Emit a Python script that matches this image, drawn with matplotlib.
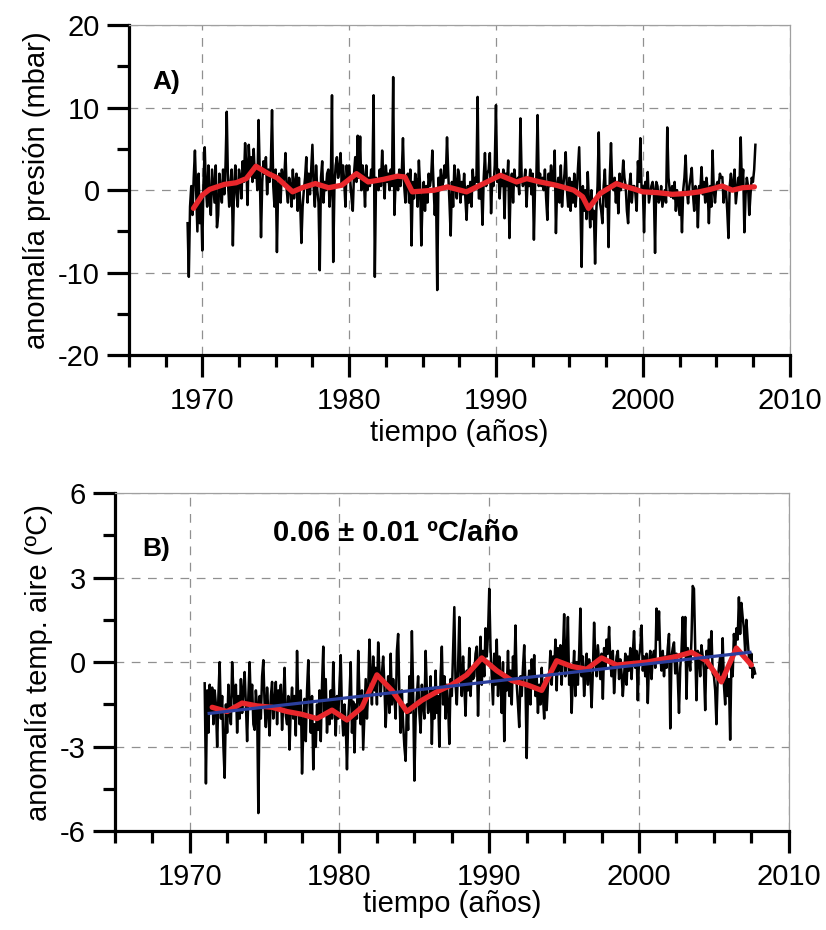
import numpy as np
import matplotlib
matplotlib.use("Agg")
import matplotlib.pyplot as plt
from matplotlib.ticker import MultipleLocator, FixedLocator

plt.rcParams['font.family'] = ['Liberation Sans', 'DejaVu Sans']
plt.rcParams['axes.unicode_minus'] = False

# Monthly pressure anomaly (mbar), one row per year, starting January 1969
pres_start = 1969
pres_monthly = [
    [-4.0, -10.5, -2.0, 0.5, -3.0, 1.5, 4.8, 0.0, -5.0, 2.0, -4.0, -1.0],
    [-7.3, 1.0, 5.2, 0.0, -2.0, 3.0, -1.0, -3.0, 2.5, 0.5, -1.5, 3.0],
    [-4.5, -3.0, 2.0, 0.0, -1.5, 2.5, -0.5, 3.0, 9.5, 1.0, -2.0, 1.0],
    [2.5, -6.7, 0.5, 3.0, -0.5, -2.0, 2.5, 1.5, -1.0, 3.5, 1.0, 5.7],
    [3.0, -1.8, 5.5, 2.0, 4.0, 1.0, 5.0, 1.5, 3.0, 0.0, 8.5, 2.0],
    [-5.7, 1.0, 3.5, 2.0, 4.0, -0.5, 2.5, 1.0, 3.0, 9.7, 0.5, -2.0],
    [2.5, -7.5, 0.5, 2.0, -1.5, 2.5, 1.0, 1.5, 4.5, 0.0, -1.5, 1.5],
    [0.5, -2.0, 2.5, -1.0, 1.0, 2.0, -2.5, 1.5, -1.5, -6.4, -2.0, 0.0],
    [1.5, 4.0, -1.5, 2.0, -0.5, 2.5, 5.5, 0.5, -2.0, 3.0, 0.0, -1.5],
    [-9.7, 1.5, 3.5, -1.5, 1.0, 0.0, 2.0, 2.5, -2.0, 0.5, 11.5, -8.7],
    [0.5, 3.0, 4.0, 1.5, 2.5, 4.5, 0.5, 3.0, 1.0, -2.0, 3.0, 1.0],
    [3.0, 1.0, -1.0, -2.5, 2.0, 4.0, 1.0, 6.6, 1.5, 6.5, 0.0, 3.0],
    [1.5, -2.0, 3.0, 0.0, 1.5, 0.5, 2.5, 1.0, 11.5, -10.5, 1.5, 1.0],
    [0.0, 2.5, 0.5, 4.8, 1.5, -1.0, 3.0, 1.0, 2.0, 0.0, 2.5, 0.5],
    [13.7, -3.0, 1.0, 1.5, 0.0, 2.5, 0.5, 2.0, 6.3, 0.5, -1.5, 1.5],
    [2.0, -1.5, 2.5, -6.7, 1.0, -1.0, 2.0, 1.0, -2.0, 3.6, 0.5, -6.7],
    [-1.0, 1.0, -2.5, 0.5, -1.5, 2.0, 0.5, 1.5, 4.8, 0.5, -3.0, 0.0],
    [-12.1, 1.5, 0.0, 2.5, 0.5, 1.0, 3.0, 1.5, 6.4, 2.0, -1.5, -5.5],
    [1.0, -2.0, 3.0, 0.5, -1.0, 2.5, 1.8, -1.5, 1.0, -0.5, 2.0, -1.0],
    [-3.6, 0.5, -1.5, 1.0, -2.0, 2.5, 0.0, 1.5, 1.0, 11.3, -1.0, -1.0],
    [0.5, -4.2, 1.5, 4.5, 0.5, 2.0, 2.5, 4.5, -2.8, 1.5, 0.5, 3.0],
    [10.3, 1.0, 2.5, -1.0, 1.5, 0.5, 2.5, -3.4, 2.0, 0.5, 3.6, -5.8],
    [0.5, 2.0, -1.5, 2.5, 1.0, 0.5, 1.5, -0.5, 8.7, 1.5, 0.5, 1.0],
    [2.5, -2.0, 1.5, 0.5, 2.5, -0.5, 2.0, -6.0, 1.0, 1.5, 9.1, 0.5],
    [2.0, 0.5, 1.5, 0.0, 2.5, -1.0, -3.6, 2.0, 0.5, 3.0, 1.0, 1.0],
    [4.8, -5.2, 0.5, 1.5, -1.5, 3.0, -2.0, 0.5, 2.0, 4.6, 0.0, -2.0],
    [1.5, -2.5, 1.0, -1.5, 2.0, -2.0, 0.0, 2.5, 5.2, -1.5, -9.3, 0.5],
    [-2.5, 0.0, -3.5, 2.2, -1.5, -4.5, 0.0, -3.5, -2.5, -8.9, -2.5, 0.5],
    [7.0, -1.5, -2.5, -4.0, 0.5, 2.5, -2.0, 0.5, -6.9, 1.5, 5.7, 0.5],
    [0.0, 1.5, -1.5, 1.0, -2.8, 2.0, 0.0, 1.0, 3.6, 1.5, 0.5, -2.5],
    [-4.0, 0.5, 2.0, -1.5, 0.5, 0.5, -0.5, -2.5, 3.5, 1.0, 6.3, 0.0],
    [0.5, -5.1, 1.0, 0.0, 2.2, -1.5, -0.5, 0.5, 1.0, 0.0, -7.6, 1.0],
    [0.5, -1.5, -1.0, 0.5, -2.0, -1.0, 0.0, -1.5, 7.6, 1.5, 0.0, -0.8],
    [0.5, -1.0, 1.0, -2.5, 0.0, -1.5, -3.0, -0.5, -5.1, 0.0, 1.5, 4.2],
    [0.0, -1.6, 0.5, 1.5, 2.7, -0.5, -2.5, 0.5, 0.0, -4.5, 0.5, 0.0],
    [2.8, -0.5, 1.0, -1.5, 1.5, 0.0, -4.0, 0.5, -2.0, 4.8, 0.0, -1.5],
    [0.5, 1.0, 0.5, 2.0, 1.5, 1.6, -1.5, 0.5, 0.0, -2.5, -5.8, 0.5],
    [2.0, 0.0, 0.5, 2.5, -1.6, 0.0, 1.5, 0.5, 6.4, 0.5, 2.5, -5.1],
    [-0.5, 1.5, 0.5, -3.0, -0.5, 1.5, 1.0, 2.5, 5.5],
]

# Smoothed pressure anomaly (mbar)
pres_smooth_t = [1969.4, 1970.0, 1970.5, 1971.5, 1972.3, 1973.0, 1973.65, 1974.5,
                 1975.1, 1976.15, 1976.8, 1977.7, 1978.6, 1979.5, 1980.5, 1981.3,
                 1982.3, 1983.3, 1983.8, 1984.3, 1985.8, 1986.7, 1988.0, 1988.7,
                 1990.3, 1991.4, 1992.1, 1993.0, 1994.1, 1995.3, 1995.9, 1996.3,
                 1997.1, 1998.2, 1998.7, 1999.3, 2000.0, 2001.0, 2002.0, 2003.0,
                 2003.85, 2004.6, 2005.4, 2006.1, 2006.8, 2007.6]
pres_smooth = [-2.2, -0.6, 0.1, 0.7, 0.9, 1.4, 2.9, 2.0,
               1.5, -0.2, 0.3, 0.8, 0.3, 0.6, 2.0, 1.0,
               1.3, 1.7, 1.6, -0.2, 0.0, 0.4, -0.2, 0.4,
               1.8, 1.0, 1.4, 1.0, 0.6, 0.0, -0.8, -2.2,
               -0.4, 0.8, 0.5, 0.2, -0.2, -0.3, -0.5, -0.4,
               -0.2, 0.1, 0.5, 0.0, 0.3, 0.4]

# Monthly air temperature anomaly (degC), one row per year, starting January 1971
temp_start = 1971
temp_monthly = [
    [-0.75, -4.3, -1.0, -2.5, -0.8, -1.8, -0.9, -2.2, -1.0, -1.5, -3.0, -1.2],
    [0.0, -2.0, -1.2, -3.0, -4.1, -1.5, -2.5, -0.8, -1.8, -2.2, 0.0, -1.0],
    [-1.5, -0.8, -2.5, -1.2, -2.0, -0.6, -1.8, -1.0, -0.35, -1.5, -2.8, -1.2],
    [0.0, -1.5, -0.8, -2.2, -2.4, -1.0, -1.6, -5.35, -1.2, -2.0, -0.5, 0.07],
    [-1.5, -2.3, -0.9, -1.8, -2.6, -1.2, -0.7, -2.0, -1.4, -0.7, -2.2, -1.0],
    [-1.5, -0.8, -2.4, -1.4, -0.2, -1.9, -2.2, -1.2, -3.1, -1.6, -0.9, -2.0],
    [-1.2, -2.6, 0.4, -1.5, -2.2, -1.0, -3.95, -2.4, -1.3, -2.8, -1.0, 0.07],
    [-1.5, -2.5, -1.2, -3.8, -2.2, -3.0, -1.5, -2.4, -1.0, -2.8, -0.8, 0.55],
    [-1.8, -0.6, -2.5, -1.4, -2.2, -1.0, -2.0, 0.0, -1.5, -2.6, -1.2, -2.0],
    [-0.8, 0.25, -1.8, -2.6, -1.5, -2.2, -3.8, -2.0, -1.2, 0.0, -2.5, -1.4],
    [-3.2, -1.5, -2.0, 0.4, -1.2, -2.2, -1.0, -3.1, -1.8, -0.6, -2.0, -1.0],
    [0.8, -0.5, -1.5, 0.2, -1.0, -0.2, -1.5, 0.7, -0.3, -1.2, -0.4, 0.2],
    [-0.8, -2.3, -1.2, -0.5, -1.8, 0.3, -1.5, -0.6, -1.2, -2.0, 0.4, 1.0],
    [-1.2, -2.5, -1.0, -2.2, -3.0, -3.5, -1.5, -2.4, -0.5, -1.8, 1.1, -1.0],
    [-4.2, -2.0, -1.2, -0.5, -1.8, -2.5, -0.8, -1.5, -2.0, 0.4, -1.0, -1.8],
    [-1.5, -0.5, -2.9, -1.0, -2.0, -0.3, -1.8, -1.2, -3.0, -0.5, 0.55, -1.5],
    [-0.5, -2.0, -0.8, -1.5, -2.9, -0.6, -1.2, 0.4, 1.95, -0.8, -1.5, -0.2],
    [1.6, -0.5, -1.2, 0.2, -0.8, -1.9, -0.3, -1.0, 0.5, -1.2, -0.2, -0.6],
    [-0.5, 0.3, 0.55, -1.9, -0.2, 0.9, -0.8, 0.4, -0.5, 1.2, 0.2, 1.0],
    [2.6, 0.5, -0.5, -1.5, 0.3, -0.8, 0.8, -1.2, 0.2, -0.6, -1.8, 0.0],
    [-2.8, -0.5, -1.0, 0.4, -1.2, -0.3, -1.5, 0.2, -0.6, 1.3, -0.8, -1.5],
    [-2.3, -0.5, -1.2, -0.2, 0.6, -0.8, -3.4, -1.0, -0.3, -1.5, 0.1, -0.8],
    [0.25, -1.2, -0.5, -1.8, -0.8, -1.5, -0.2, -1.2, -2.0, -0.6, -1.7, -0.8],
    [-0.5, 0.4, -0.8, 0.2, -0.4, 0.8, -1.0, 0.5, -0.3, 0.6, -0.8, 0.3],
    [1.7, -0.5, 0.2, 1.6, -0.8, -0.2, -1.8, -0.5, 0.4, -1.2, 0.0, -0.8],
    [0.3, 1.9, -0.5, 0.2, -1.2, -0.4, 0.3, -0.8, 0.1, -0.5, -1.6, -0.3],
    [1.4, 0.2, -0.5, 0.6, 0.0, -0.6, 0.3, -1.3, 0.5, -0.2, 0.8, 0.3],
    [1.25, 0.0, -0.5, 0.4, -1.1, -0.3, 0.2, 0.4, -0.6, 0.1, -0.4, -1.2],
    [-0.5, 0.3, -0.8, 0.2, -0.3, 0.5, -0.6, 0.3, 1.1, -0.2, 0.4, -1.35],
    [0.2, 0.5, 1.3, -0.3, 0.2, -0.5, 0.3, -1.45, 0.0, 0.4, -0.6, 0.2],
    [0.4, -0.2, 1.9, 0.8, 1.8, 0.2, -0.3, 0.4, -0.5, 0.2, -0.2, 0.5],
    [1.0, -2.35, 0.2, 0.5, 0.7, -0.4, 0.3, -0.5, -1.8, -0.2, 0.4, 1.6],
    [0.3, 1.6, -1.3, 0.5, 0.2, -0.3, 0.8, 2.7, 2.6, 0.5, -1.35, 0.4],
    [0.3, -0.5, 0.6, 0.2, -0.3, -1.7, 0.4, -0.2, 0.8, 0.2, 1.1, -0.4],
    [-0.5, -1.0, -2.2, -0.6, -0.2, 0.2, -0.5, 0.85, -0.8, -1.5, -0.4, -1.2],
    [-0.6, -2.75, 0.0, -0.5, 1.0, 0.4, 1.2, 0.8, 2.3, 1.0, 2.1, 1.6],
    [1.2, 0.4, 1.5, 0.8, 0.2, -0.2, 0.3, -0.55, -0.2, -0.4],
]

# Annual mean air temperature anomaly (degC)
temp_annual_t = [1971.5, 1972.5, 1973.5, 1974.5, 1975.5, 1976.5, 1977.5, 1978.5,
                 1979.5, 1980.5, 1981.5, 1982.5, 1983.5, 1984.5, 1985.5, 1986.5,
                 1987.5, 1988.5, 1989.5, 1990.5, 1991.5, 1992.5, 1993.5, 1994.5,
                 1995.5, 1996.5, 1997.5, 1998.5, 1999.5, 2000.5, 2001.5, 2002.5,
                 2003.5, 2004.5, 2005.5, 2006.5, 2007.5]
temp_annual = [-1.6, -1.75, -1.45, -1.55, -1.6, -1.75, -1.85, -2.0,
               -1.7, -2.05, -1.6, -0.45, -1.0, -1.75, -1.35, -1.05,
               -0.8, -0.45, 0.15, -0.3, -0.65, -0.8, -1.0, 0.05,
               -0.15, -0.25, 0.15, -0.1, -0.05, 0.0, 0.1, 0.2,
               0.35, 0.05, -0.7, 0.5, -0.1]

# Linear trend: slope (degC/year) and its value at the end of the record
trend_slope = 0.06
trend_t = [1971.3, 2007.4]
trend_end_value = 0.35


def monthly_series(rows, start):
    vals = np.concatenate([np.asarray(r, dtype=float) for r in rows])
    t = start + np.arange(len(vals)) / 12.0
    return t, vals


def style_axes(ax, ylim, ymajor, yminor):
    ax.set_xlim(1965, 2010)
    ax.set_ylim(*ylim)
    ax.xaxis.set_major_locator(FixedLocator([1970, 1980, 1990, 2000, 2010]))
    ax.xaxis.set_minor_locator(MultipleLocator(2.5))
    ax.yaxis.set_major_locator(MultipleLocator(ymajor))
    ax.yaxis.set_minor_locator(MultipleLocator(yminor))
    for side in ('left', 'bottom'):
        ax.spines[side].set_linewidth(2.3)
        ax.spines[side].set_color('black')
    for side in ('top', 'right'):
        ax.spines[side].set_linewidth(0.9)
        ax.spines[side].set_color('#a0a0a0')
    ax.tick_params(which='major', length=16, width=2.3, labelsize=21,
                   top=False, right=False)
    ax.tick_params(which='minor', length=8.5, width=2.3, top=False, right=False)
    ax.tick_params(axis='y', which='major', pad=5)
    ax.tick_params(axis='x', which='major', pad=7)
    ax.grid(True, which='major', linestyle=(0, (7, 6)), color='#909090',
            linewidth=0.9)
    ax.set_axisbelow(True)


fig = plt.figure(figsize=(8.26, 9.30), dpi=100)

# Panel A: pressure anomaly
axA = fig.add_axes([0.156, 0.618, 0.800, 0.355])
tA, vA = monthly_series(pres_monthly, pres_start)
axA.plot(tA, vA, color='black', linewidth=1.8, zorder=3)
axA.plot(pres_smooth_t, pres_smooth, color='#e8262b', linewidth=3.8,
         solid_joinstyle='round', solid_capstyle='round', zorder=4)
style_axes(axA, (-20, 20), 10, 5)
axA.set_xlabel('tiempo (años)', fontsize=21, labelpad=3)
axA.set_ylabel('anomalía presión (mbar)', fontsize=21, labelpad=5)
axA.text(0.036, 0.827, 'A)', transform=axA.transAxes, fontsize=19,
         fontweight='bold', va='center', ha='left')

# Panel B: air temperature anomaly
axB = fig.add_axes([0.139, 0.106, 0.816, 0.364])
tB, vB = monthly_series(temp_monthly, temp_start)
axB.plot(tB, vB, color='black', linewidth=1.8, zorder=3)
axB.plot(temp_annual_t, temp_annual, color='#e8262b', linewidth=3.8,
         solid_joinstyle='round', solid_capstyle='round', zorder=4)
trend_t = np.asarray(trend_t)
trend_vals = trend_end_value + trend_slope * (trend_t - trend_t[-1])
axB.plot(trend_t, trend_vals, color='#2b3f9e', linewidth=2.3, zorder=5)
style_axes(axB, (-6, 6), 3, 1.5)
axB.set_xlabel('tiempo (años)', fontsize=21, labelpad=-1)
axB.set_ylabel('anomalía temp. aire (ºC)', fontsize=21, labelpad=5)
axB.text(0.040, 0.834, 'B)', transform=axB.transAxes, fontsize=19,
         fontweight='bold', va='center', ha='left')
axB.text(0.234, 0.882, f'{trend_slope:.2f} ± 0.01 ºC/año', transform=axB.transAxes,
         fontsize=21, fontweight='bold', va='center', ha='left')

fig.savefig('out.png', dpi=100)
